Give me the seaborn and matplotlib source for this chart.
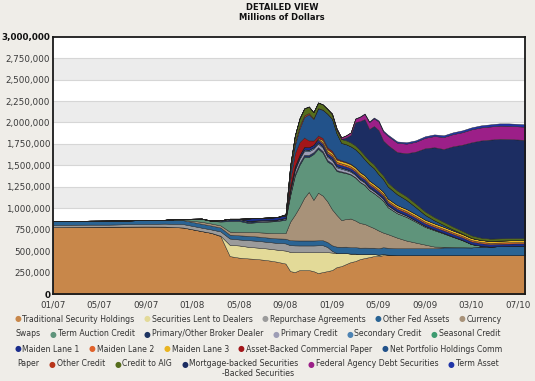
import numpy as np
import pandas as pd
import matplotlib
matplotlib.use("Agg")
import matplotlib.pyplot as plt
import seaborn as sns
from matplotlib.ticker import FuncFormatter

# x positions (sample index, 10 units between tick labels) and tick labels
week = [0, 4, 8, 12, 16, 20, 24, 28, 32, 34, 36, 38, 40, 42, 44, 46, 48,
        50, 51, 52, 53, 54, 55, 56, 57, 58, 59, 60, 61, 62, 63, 64, 65, 66,
        67, 68, 69, 70, 71, 72, 74, 76, 78, 80, 82, 84, 86, 88, 90, 92, 94,
        96, 98, 100, 102]
tick_pos = [0, 10, 20, 30, 40, 50, 60, 70, 80, 90, 100]
tick_labels = ["01/07", "05/07", "09/07", "01/08", "05/08", "09/08",
               "01/09", "05/09", "09/09", "03/10", "07/10"]

# values in billions of dollars (plotted as millions)
trad = [779, 781, 783, 785, 786, 787, 786, 775, 733, 713,
        675, 442, 424, 415, 407, 395, 378, 355, 267, 256,
        279, 279, 279, 267, 244, 256, 267, 279, 314, 325,
        349, 372, 384, 407, 419, 430, 442, 442, 453, 453] + [453] * 15
lent = [0] * 10 + [5, 131, 142, 135, 134, 136, 140, 151, 224, 233,
                   209, 209, 209, 221, 244, 233, 221, 204, 163, 151,
                   128, 99, 87, 58, 47, 35, 23, 17, 12, 6] + [0] * 15
repo = [25, 27, 26, 24, 28, 30, 35, 40, 40, 40,
        50, 74, 70, 78, 79, 77, 79, 84, 78, 78,
        78, 78, 78, 78, 80, 80, 60, 20, 0, 0] + [0] * 25
other = [45, 44, 45, 46, 44, 45, 45, 45, 45, 45,
         45, 45, 48, 50, 50, 51, 52, 55, 58, 58,
         58, 58, 58, 58, 58, 58, 58, 65, 75, 75,
         75, 75, 75, 75, 75, 75, 75, 75, 80, 80,
         80, 80, 80, 80, 80, 90, 90, 90, 90, 100,
         100, 105, 108, 110, 110]
swaps = [0, 0, 0, 0, 0, 0, 0, 5, 23, 24,
         25, 35, 40, 45, 50, 55, 60, 65, 217, 299,
         392, 497, 566, 473, 555, 520, 473, 419, 369, 311,
         322, 334, 311, 287, 276, 252, 229, 206, 171, 159,
         124, 90, 66, 43, 20, 8, 4, 2, 0, 0] + [0] * 5
taf = [0, 0, 0, 0, 0, 0, 0, 10, 35, 30,
       45, 123, 128, 105, 118, 129, 141, 155, 302, 454,
       488, 477, 407, 535, 512, 500, 465, 523, 512, 558,
       535, 512, 500, 477, 454, 419, 407, 395, 372, 314,
       285, 276, 244, 207, 191, 155, 119, 83, 38, 10] + [0] * 5
pdcf = [0] * 10 + [10, 20, 18, 15, 12, 10, 8, 12, 20, 25,
                   25, 25, 25, 22, 20, 20, 18, 15, 12, 10,
                   8, 6, 5, 4, 3, 2, 1, 0, 0, 0] + [0] * 15
primary = [0, 0, 0, 0, 0, 0, 0, 2, 3, 4,
           5, 8, 8, 8, 8, 8, 8, 10, 35, 40,
           45, 45, 42, 40, 40, 38, 36, 34, 32, 30,
           28, 27, 26, 25, 24, 23, 22, 21, 20, 19,
           17, 15, 13, 11, 9, 7, 5, 3, 2, 1] + [0] * 5
secondary = [0] * 18 + [15, 18,
                        18, 18, 18, 17, 17, 16, 15, 15, 14, 14,
                        13, 13, 12, 12, 11, 11, 10, 10, 10, 8,
                        6, 4, 2, 1, 0, 0, 0, 0, 0, 0] + [0] * 5
seasonal = [0, 0, 1, 1, 0, 0, 0, 0, 0, 0,
            0, 0, 0, 1, 1, 1, 0, 0, 0, 0] + [0] * 20 + \
           [0, 1, 1, 1, 0, 0, 0, 0, 0, 0] + [0] * 5
ml1 = [0] * 13 + [29] * 36 + [28, 28, 27, 27, 27, 27]
ml2 = [0] * 24 + [10] + [20] * 6 + [19] * 8 + [18] * 4 + [17] * 3 + [16] * 3 + [15] * 6
ml3 = [0] * 24 + [10, 25] + [27] * 14 + [26] * 4 + [25] * 3 + [24] * 2 + [23] * 6
abcp = [0] * 17 + [5, 90, 150,
                   150, 110, 80, 50, 30, 25, 22, 20, 15, 10,
                   8, 6, 5, 4, 3, 2, 1, 1, 1] + [0] * 16
cpff = [0] * 18 + [80, 94,
                   156, 238, 305, 250, 314, 327, 390, 373, 288, 201,
                   204, 203, 207, 210, 184, 188, 181, 154, 144, 140,
                   125, 105, 80, 55, 35, 22, 12, 5, 2] + [0] * 6
other_credit = [0] * 18 + [25, 35,
                           30, 20, 15, 10, 5, 3, 2, 2, 1, 1] + [1] * 10 + [0] * 15
aig = [0] * 17 + [9, 60, 80,
                  90, 80, 75, 70, 65, 60, 55, 50, 45, 45] + [45] * 10 + \
      [44, 43, 42, 40, 38, 36, 34, 32, 30, 28, 27, 26, 26, 25, 25]
mbs = [0] * 30 + [33, 86, 271, 335, 422, 366, 446, 470, 405, 437,
                  447, 501, 606, 736, 814, 848, 935, 1003, 1085, 1132,
                  1154, 1160, 1155, 1148, 1142]
agency = [0] * 27 + [10, 15, 20,
                     25, 30, 40, 50, 60, 80, 90, 100, 105, 108,
                     110, 112, 115, 122, 131, 140, 142, 146, 151, 152,
                     153, 154, 155, 154, 154]
talf = [0] * 32 + [3, 5, 6, 8, 10, 12, 13, 14,
                   15, 16, 17, 18, 19, 20, 21, 22, 23, 24,
                   25, 26, 27, 28, 28]

names = ["Traditional Security Holdings", "Securities Lent to Dealers",
         "Repurchase Agreements", "Other Fed Assets", "Currency Swaps",
         "Term Auction Credit", "Primary/Other Broker Dealer", "Primary Credit",
         "Secondary Credit", "Seasonal Credit", "Maiden Lane 1", "Maiden Lane 2",
         "Maiden Lane 3", "Asset-Backed Commercial Paper",
         "Net Portfolio Holdings Comm Paper", "Other Credit", "Credit to AIG",
         "Mortgage-backed Securities", "Federal Agency Debt Securities",
         "Term Asset-Backed Securities"]
series = [trad, lent, repo, other, swaps, taf, pdcf, primary, secondary,
          seasonal, ml1, ml2, ml3, abcp, cpff, other_credit, aig, mbs,
          agency, talf]

df = pd.DataFrame({n: s for n, s in zip(names, series)}, index=week) * 1000

colors = ["#c8874a", "#e3da98", "#9b9b9b", "#2a6494", "#a89279",
          "#5f947b", "#1d3461", "#9d9db5", "#4d83b3", "#3d9b70",
          "#1b2d8c", "#e0622a", "#e9b421", "#a3161a", "#22528a",
          "#b8351a", "#566d1c", "#1c2d62", "#9c1f88", "#2035a8"]
pal = sns.color_palette(colors)

sns.set_style("white")
plt.rcParams["font.family"] = ["DejaVu Sans"]
BG = "#efede8"

fig = plt.figure(figsize=(5.35, 3.81), dpi=100, facecolor=BG)
ax = fig.add_axes([53 / 535, 1 - 294 / 381, 472 / 535, (294 - 36.7) / 381])
ax.set_facecolor("white")

# alternating grey bands behind the plot
for lo in range(0, 3000000, 500000):
    ax.axhspan(lo, lo + 250000, color="#ececec", zorder=0, lw=0)
for v in range(250000, 3000000, 250000):
    ax.axhline(v, color="#d6d6d6", lw=0.8, zorder=0.5)

ax.stackplot(df.index, *[df[n] for n in names], colors=pal,
             edgecolor="#202020", linewidth=0.3, zorder=2)

ax.set_xlim(0, 101.5)
ax.set_ylim(0, 3000000)
ax.set_yticks(range(0, 3000001, 250000))
ax.yaxis.set_major_formatter(FuncFormatter(lambda v, p: f"{int(v):,}"))
ax.set_xticks(tick_pos)
ax.set_xticklabels(tick_labels)
ax.tick_params(axis="both", length=0, labelsize=6.3, colors="#3a3a3a")
ax.tick_params(axis="y", pad=2)
ax.tick_params(axis="x", pad=5)
ylabels = ax.get_yticklabels()
for lab in (ylabels[0], ylabels[-1]):
    lab.set_fontweight("bold")
    lab.set_color("#111111")
for sp in ax.spines.values():
    sp.set_color("#1a1a1a")
    sp.set_linewidth(1.3)
    sp.set_zorder(5)

fig.text(282 / 535, 1 - 7 / 381, "DETAILED VIEW", ha="center", va="center",
         fontsize=6, fontweight="bold", color="#111111")
fig.text(282 / 535, 1 - 18 / 381, "Millions of Dollars", ha="center", va="center",
         fontsize=6, fontweight="bold", color="#111111")

# legend: wrapped, centred rows of coloured bullets and labels
rows = [
    [(0, "Traditional Security Holdings"), (1, "Securities Lent to Dealers"),
     (2, "Repurchase Agreements"), (3, "Other Fed Assets"), (4, "Currency")],
    [(None, "Swaps"), (5, "Term Auction Credit"), (6, "Primary/Other Broker Dealer"),
     (7, "Primary Credit"), (8, "Secondary Credit"), (9, "Seasonal Credit")],
    [(10, "Maiden Lane 1"), (11, "Maiden Lane 2"), (12, "Maiden Lane 3"),
     (13, "Asset-Backed Commercial Paper"), (14, "Net Portfolio Holdings Comm")],
    [(None, "Paper"), (15, "Other Credit"), (16, "Credit to AIG"),
     (17, "Mortgage-backed Securities"), (18, "Federal Agency Debt Securities"),
     (19, "Term Asset")],
    [(None, "-Backed Securities")],
]
row_y = [319, 334, 349, 364, 374]
leg_fs = 5.6
W, H = 535, 381
renderer = fig.canvas.get_renderer()
for row, yy in zip(rows, row_y):
    parts = []
    for ci, label in row:
        dot = None
        if ci is not None:
            dot = fig.text(0, 0, "\u25CF", fontsize=leg_fs, color=colors[ci],
                           va="center", ha="left")
        txt = fig.text(0, 0, label, fontsize=leg_fs, color="#333333",
                       va="center", ha="left")
        dw = dot.get_window_extent(renderer).width + 1.5 if dot else 0
        tw = txt.get_window_extent(renderer).width
        parts.append((dot, txt, dw, tw))
    gap = 9
    total = sum(dw + tw for _, _, dw, tw in parts) + gap * (len(parts) - 1)
    x = 258 - total / 2
    for dot, txt, dw, tw in parts:
        if dot is not None:
            dot.set_position((x / W, 1 - yy / H))
        txt.set_position(((x + dw) / W, 1 - yy / H))
        x += dw + tw + gap

fig.savefig("out.png", dpi=100, facecolor=BG)
